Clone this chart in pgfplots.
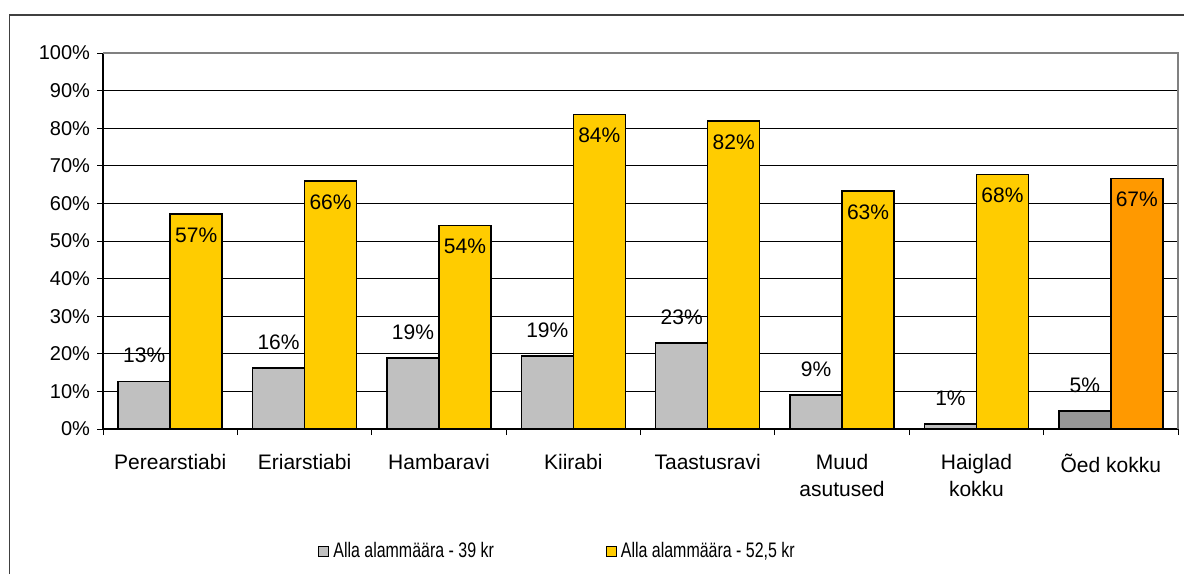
\documentclass[border=0pt]{standalone}
\usepackage{fontspec}
\setmainfont{Liberation Sans}
\newfontfamily\legfont[FakeStretch=0.76]{Liberation Sans}
\usepackage{pgfplots}
\pgfplotsset{compat=1.18}
\definecolor{barA}{HTML}{C0C0C0}
\definecolor{barB}{HTML}{FFCC00}
\definecolor{barC}{HTML}{969696}
\definecolor{barD}{HTML}{FF9900}
\begin{document}
\fontsize{10}{12}\selectfont
\begin{tikzpicture}[x=1pt,y=1pt]
\useasboundingbox (0,0) rectangle (592,287);
\draw[line width=0.6pt, black!75] (4.75,0) -- (4.75,279.5) -- (600,279.5);
\begin{axis}[
  at={(51.5pt,72.5pt)}, anchor=south west,
  scale only axis, width=537.5pt, height=188pt,
  /pgf/number format/assume math mode=true,
  ybar=0pt,
  xmin=-0.5, xmax=7.5, ymin=0, ymax=100,
  axis lines*=left,
  axis line style={black, line width=0.6pt},
  xtick={0,...,7},
  xticklabels={Perearstiabi, Eriarstiabi, Hambaravi, Kiirabi, Taastusravi, {Muud\\asutused}, {Haiglad\\kokku}, Õed kokku},
  xticklabel style={align=center, anchor=north, yshift=-6pt, font=\fontsize{10.5}{13.5}\selectfont},
  major x tick style={draw=none},
  minor xtick={-0.5,0.5,...,7.5},
  ytick={0,10,...,100},
  yticklabel={\pgfmathprintnumber{\tick}\%},
  yticklabel style={font=\fontsize{10}{12}\selectfont},
  tick align=outside,
  major tick length=3pt, minor tick length=3pt,
  tick style={black, line width=0.5pt},
  ymajorgrids, grid style={black, line width=0.5pt},
  bar width=26pt,
  legend image code/.code={\draw[#1, draw=black, line width=0.5pt] (0pt,-2.5pt) rectangle (5pt,2.5pt);},
  legend columns=2,
  legend style={draw=none, fill=none, at={(0.1944,-0.3245)}, anchor=west,
    font=\legfont\fontsize{10.5}{12}\selectfont,
    /tikz/every even column/.append style={column sep=54pt}},
  nodes near coords={\pgfmathprintnumber[fixed,precision=0]{\pgfplotspointmeta}\%},
  every node near coord/.append style={font=\fontsize{10.5}{12}\selectfont, anchor=center},
  after end axis/.code={\draw[black!50, line width=0.6pt] (rel axis cs:0,1) -- (rel axis cs:1,1) -- (rel axis cs:1,0);},
]
\addplot[bar shift=-13pt, fill=barA, draw=black, line width=0.8pt,
  every node near coord/.append style={yshift=13pt}]
  coordinates {(0,12.6) (1,16.2) (2,18.9) (3,19.4) (4,22.9) (5,9.0) (6,1.3)};
\addlegendentry{Alla alammäära - 39 kr}
\addplot[forget plot, bar shift=-13pt, fill=barC, draw=black, line width=0.8pt,
  every node near coord/.append style={yshift=13pt}]
  coordinates {(7,4.8)};
\addplot[bar shift=13pt, fill=barB, draw=black, line width=0.8pt,
  every node near coord/.append style={yshift=-10.5pt}]
  coordinates {(0,57.2) (1,66.0) (2,54.1) (3,83.6) (4,81.9) (5,63.3) (6,67.7)};
\addlegendentry{Alla alammäära - 52,5 kr}
\addplot[forget plot, bar shift=13pt, fill=barD, draw=black, line width=0.8pt,
  every node near coord/.append style={yshift=-10.5pt}]
  coordinates {(7,66.6)};
\end{axis}
\end{tikzpicture}
\end{document}
